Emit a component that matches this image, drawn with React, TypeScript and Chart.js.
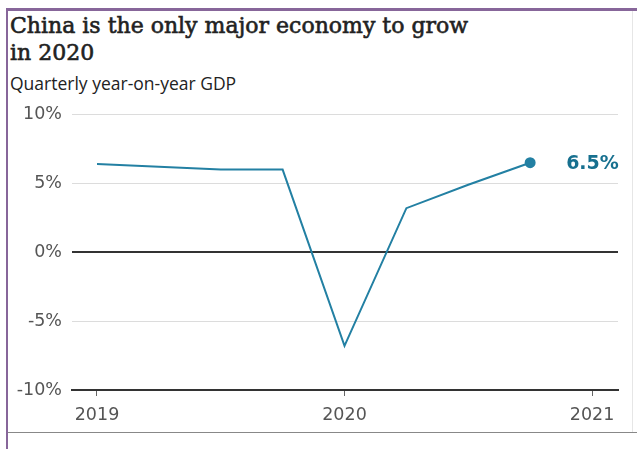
import React, { useEffect, useRef } from "react";
import { Chart, registerables } from "chart.js";

Chart.register(...registerables);

const quarters = [2019, 2019.25, 2019.5, 2019.75, 2020, 2020.25, 2020.5, 2020.75];
const gdpGrowth = [6.4, 6.2, 6.0, 6.0, -6.8, 3.2, 4.9, 6.5];
const yearTicks = [2019, 2020, 2021];
const yTicks = [-10, -5, 0, 5, 10];
const lastLabel = "6.5%";

const LINE = "#2380a3";
const LABEL = "#17708f";

const endLabelPlugin = {
  id: "endLabel",
  afterDatasetsDraw(chart: any) {
    const meta = chart.getDatasetMeta(0);
    const pt = meta.data[meta.data.length - 1];
    if (!pt) return;
    const ctx = chart.ctx;
    ctx.save();
    ctx.font = "bold 19px 'DejaVu Sans'";
    ctx.fillStyle = LABEL;
    ctx.textAlign = "left";
    ctx.textBaseline = "middle";
    ctx.fillText(lastLabel, pt.x + 36, pt.y + 1);
    ctx.restore();
  },
};

function GdpChart() {
  const ref = useRef<HTMLCanvasElement | null>(null);
  useEffect(() => {
    if (!ref.current) return;
    const chart = new Chart(ref.current, {
      type: "line",
      data: {
        datasets: [
          {
            data: quarters.map((q, i) => ({ x: q, y: gdpGrowth[i] })),
            borderColor: LINE,
            backgroundColor: LINE,
            borderWidth: 2,
            pointRadius: gdpGrowth.map((_, i) => (i === gdpGrowth.length - 1 ? 4.5 : 0)),
            pointHoverRadius: 0,
            tension: 0,
          },
        ],
      },
      plugins: [endLabelPlugin],
      options: {
        animation: false,
        responsive: false,
        maintainAspectRatio: false,
        layout: { padding: { top: 8, right: 19, left: 0, bottom: 0 } },
        plugins: { legend: { display: false }, tooltip: { enabled: false } },
        scales: {
          x: {
            type: "linear",
            min: 2018.899,
            max: 2021.105,
            afterBuildTicks: (scale: any) => {
              scale.ticks = yearTicks.map((v) => ({ value: v }));
            },
            afterFit: (scale: any) => {
              scale.height = 50;
            },
            grid: {
              drawOnChartArea: false,
              drawTicks: true,
              tickLength: 6,
              tickColor: "#666",
              tickWidth: 1,
            },
            border: { display: true, color: "#333", width: 2 },
            ticks: {
              color: "#555",
              padding: 9,
              maxRotation: 0,
              font: { family: "'DejaVu Sans'", size: 17.5 },
              callback: (v: any) => String(v),
            },
          },
          y: {
            min: -10,
            max: 10,
            afterBuildTicks: (scale: any) => {
              scale.ticks = yTicks.map((v) => ({ value: v }));
            },
            afterFit: (scale: any) => {
              scale.width = 72;
            },
            grid: {
              drawTicks: false,
              color: (c: any) => (c.tick && c.tick.value === 0 ? "#333" : c.tick && c.tick.value === -10 ? "rgba(0,0,0,0)" : "#dcdcdc"),
              lineWidth: (c: any) => (c.tick && c.tick.value === 0 ? 2 : 1),
            },
            border: { display: false },
            ticks: {
              color: "#555",
              padding: 10,
              font: { family: "'DejaVu Sans'", size: 17.5 },
              callback: (v: any) => `${v}%`,
            },
          },
        },
      },
    } as any);
    return () => chart.destroy();
  }, []);
  return (
    <canvas
      ref={ref}
      width={637}
      height={346}
      style={{ position: "absolute", left: 0, top: 94, width: 637, height: 346 }}
    />
  );
}

export default function App() {
  return (
    <div
      style={{
        position: "fixed",
        left: 0,
        top: 0,
        width: 637,
        height: 449,
        background: "#fff",
        overflow: "hidden",
      }}
    >
      <div
        style={{
          position: "absolute",
          left: 6,
          top: 8,
          width: 640,
          height: 460,
          borderTop: "3px solid #87669a",
          borderLeft: "2px solid #87669a",
        }}
      />
      <div style={{ position: "absolute", left: 632, top: 11, width: 1, height: 421, background: "#e6e6e6" }} />
      <div style={{ position: "absolute", left: 8, top: 432, width: 629, height: 1, background: "#888" }} />
      <div
        style={{
          position: "absolute",
          left: 10,
          top: 12,
          width: 620,
          fontFamily: "'DejaVu Serif'",
          fontWeight: "normal",
          fontSize: 22,
          lineHeight: "27px",
          color: "#222",
          WebkitTextStroke: "0.6px #222",
        }}
      >
        China is the only major economy to grow
        <br />
        in 2020
      </div>
      <div
        style={{
          position: "absolute",
          left: 10,
          top: 72,
          fontFamily: "'Open Sans'",
          fontSize: 17.5,
          lineHeight: "22px",
          color: "#222",
        }}
      >
        Quarterly year-on-year GDP
      </div>
      <GdpChart />
    </div>
  );
}
